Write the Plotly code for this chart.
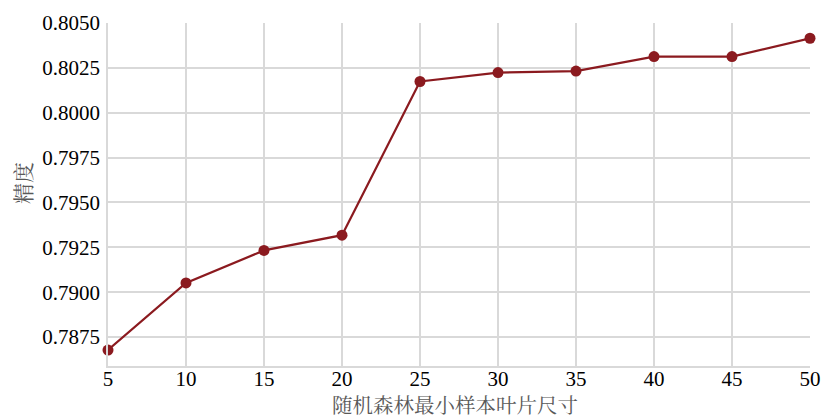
import plotly.graph_objects as go

min_leaf = [5, 10, 15, 20, 25, 30, 35, 40, 45, 50]
accuracy = [0.78678, 0.79052, 0.79233, 0.79318, 0.80174, 0.80224, 0.80232, 0.80313, 0.80313, 0.80415]
y_ticks = [0.7875, 0.7900, 0.7925, 0.7950, 0.7975, 0.8000, 0.8025, 0.8050]
x_ticks = [5, 10, 15, 20, 25, 30, 35, 40, 45, 50]
x_title = "随机森林最小样本叶片尺寸"
y_title = "精度"

line_color = "#8B1A1F"
grid_color = "#d9d9d9"
font_family = "Liberation Serif"
cjk_family = "Noto Serif CJK SC, Noto Sans CJK SC"
title_color = "#595959"

fig = go.Figure()
fig.add_trace(go.Scatter(
    x=min_leaf, y=accuracy, mode="lines+markers",
    line=dict(color=line_color, width=2.2),
    marker=dict(color=line_color, size=11),
    cliponaxis=False,
))

fig.update_layout(
    width=822, height=418,
    margin=dict(l=108, r=12, t=23, b=52),
    plot_bgcolor="white", paper_bgcolor="white",
    showlegend=False,
    font=dict(family=font_family, size=21, color="black"),
)
fig.update_xaxes(
    range=[5, 50], tickvals=x_ticks, ticktext=[str(v) for v in x_ticks],
    showgrid=True, gridcolor=grid_color, gridwidth=1.5,
    showline=True, linecolor=grid_color, linewidth=1.5,
    zeroline=False, ticks="", automargin=False, ticklabelstandoff=-7,
    tickfont=dict(family=font_family, size=21, color="black"),
)
fig.update_yaxes(
    range=[0.78589, 0.8050], tickvals=y_ticks, ticktext=[f"{v:.4f}" for v in y_ticks],
    showgrid=True, gridcolor=grid_color, gridwidth=1.5,
    showline=True, linecolor=grid_color, linewidth=1.5,
    zeroline=False, ticks="", ticklen=0, automargin=False, ticklabelstandoff=2,
    tickfont=dict(family=font_family, size=21, color="black"),
)

fig.add_annotation(
    text=x_title, xref="paper", yref="paper",
    x=(455 - 108) / 702, y=-(404 - 366) / 343,
    xanchor="center", yanchor="middle", showarrow=False,
    font=dict(family=cjk_family, size=20.5, color=title_color),
)
fig.add_annotation(
    text=y_title, xref="paper", yref="paper",
    x=-(108 - 22) / 702, y=(366 - 183) / 343,
    xanchor="center", yanchor="middle", showarrow=False, textangle=-90,
    font=dict(family=cjk_family, size=21, color=title_color),
)

fig.write_html(
    "out.html",
    config={"displayModeBar": False},
    post_script="document.body.style.margin='0';document.body.style.overflow='hidden';",
)
